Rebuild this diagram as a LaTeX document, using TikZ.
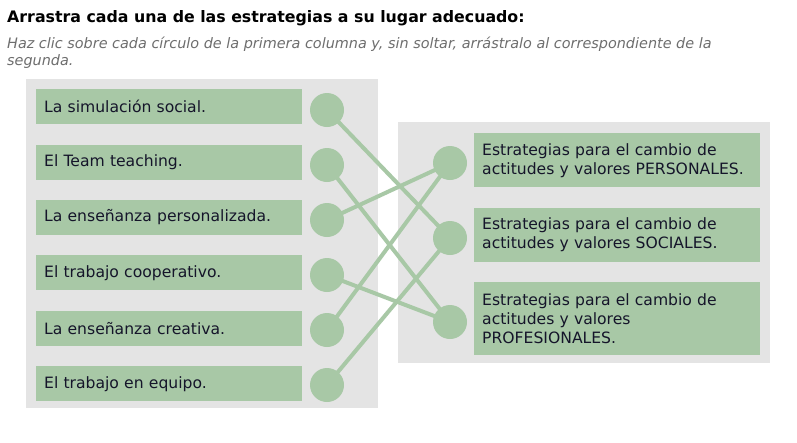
\documentclass[tikz,border=0pt]{standalone}
\usepackage{fontspec}
\setmainfont{DejaVu Sans}
\usepackage{xcolor}
\usepackage{tikz}
\usetikzlibrary{positioning}
\definecolor{quizGreen}{HTML}{A8C8A6}
\definecolor{quizPanel}{HTML}{E4E4E4}
\definecolor{quizInk}{HTML}{15152A}
\definecolor{quizHint}{HTML}{6E6E6E}
\tikzset{
  panel/.style={fill=quizPanel, draw=none},
  item/.style={rectangle, fill=quizGreen, text=quizInk, anchor=north west, align=left, text width=250pt, inner xsep=8pt, minimum height=35pt, font=\fontsize{15.6}{19}\selectfont},
  target/.style={rectangle, fill=quizGreen, text=quizInk, anchor=north west, align=left, text width=270pt, inner xsep=8pt, minimum height=54pt, font=\fontsize{15.6}{19}\selectfont},
  dot/.style={circle, fill=quizGreen, minimum size=34pt, inner sep=0pt},
  link/.style={draw=quizGreen, line width=4pt}
}

\begin{document}
\begin{tikzpicture}[x=1pt, y=-1pt]
\useasboundingbox[fill=white] (0,0) rectangle (797,442);
% heading
\node[anchor=base west, inner sep=0pt, font=\fontsize{15.8}{18}\selectfont\bfseries] (title) at (7,22) {Arrastra cada una de las estrategias a su lugar adecuado:};
\node[anchor=base west, inner sep=0pt, align=left, text=quizHint, font=\fontsize{14.4}{17}\selectfont\itshape] (hint) at (7,65) {Haz clic sobre cada círculo de la primera columna y, sin soltar, arrástralo al correspondiente de la\\segunda.};
% panels
\fill[panel] (26,79) rectangle (378,408);
\fill[panel] (398,122) rectangle (770,363);
% first column
\node[item] (s1) at (36,89) {La simulación social.};
\node[item, below=20pt of s1] (s2) {El Team teaching.};
\node[item, below=20pt of s2] (s3) {La enseñanza personalizada.};
\node[item, below=20pt of s3] (s4) {El trabajo cooperativo.};
\node[item, below=20pt of s4] (s5) {La enseñanza creativa.};
\node[item, below=20pt of s5] (s6) {El trabajo en equipo.};
% second column
\node[target] (t1) at (474,133) {Estrategias para el cambio de\\actitudes y valores PERSONALES.};
\node[target, below=20pt of t1] (t2) {Estrategias para el cambio de\\actitudes y valores SOCIALES.};
\node[target, below=20pt of t2, minimum height=73pt] (t3) {Estrategias para el cambio de\\actitudes y valores\\PROFESIONALES.};
% handles
\node[dot] (a1) at (327,110) {};
\node[dot] (a2) at (327,165) {};
\node[dot] (a3) at (327,220) {};
\node[dot] (a4) at (327,275) {};
\node[dot] (a5) at (327,330) {};
\node[dot] (a6) at (327,385) {};
\node[dot] (b1) at (450,163) {};
\node[dot] (b2) at (450,238) {};
\node[dot] (b3) at (450,322) {};
% matches
\draw[link] (a1.center) -- (b2.center);
\draw[link] (a2.center) -- (b3.center);
\draw[link] (a3.center) -- (b1.center);
\draw[link] (a4.center) -- (b3.center);
\draw[link] (a5.center) -- (b1.center);
\draw[link] (a6.center) -- (b2.center);
\end{tikzpicture}
\end{document}
